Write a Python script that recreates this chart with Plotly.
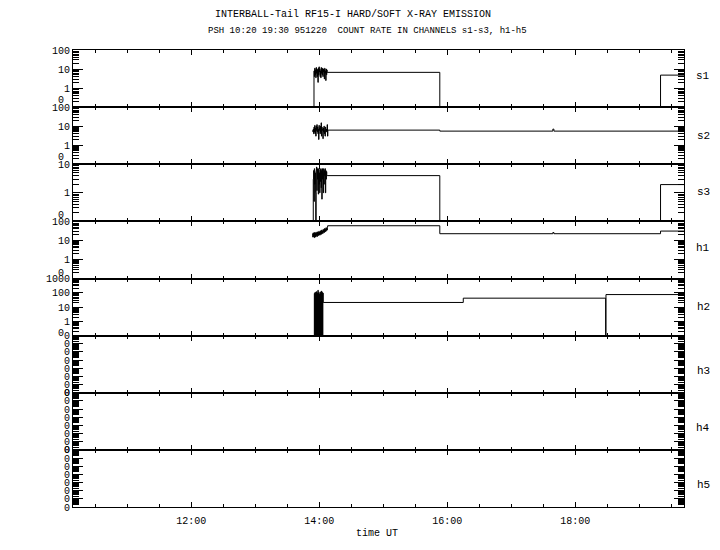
import plotly.graph_objects as go
from plotly.subplots import make_subplots
import pandas as pd

DAY = "1995-12-20 "
FONT = "Liberation Mono"

channels = ["s1", "s2", "s3", "h1", "h2", "h3", "h4", "h5"]

# ---- data (count rates) ----
burst_cadence = "20s"

s1_pre_t = ["13:54:40"]
s1_pre_v = [0]
s1_burst_start = "13:55:00"
s1_burst = [8, 4, 11, 5, 9, 3.5, 12, 6, 10, 4, 9, 2, 11, 5, 13, 7, 10, 4, 8, 3.5,
            12, 6, 9, 5, 11, 4, 10, 7, 9, 3, 11, 6, 8, 2.5, 10, 5, 9]
s1_post_t = ["14:07:20", "15:53:00", "19:20:00", "19:45:00"]
s1_post_v = [6.7, 0, 4.8, 4.8]

s2_pre_t = []
s2_pre_v = []
s2_burst_start = "13:53:40"
s2_burst = [6, 5, 7, 4, 9, 5, 11, 4, 8, 3, 10, 6, 12, 5, 9, 4, 7, 2, 11, 6, 8, 4,
            10, 5, 15, 3, 9, 6, 7, 2.2, 8, 5, 10, 4, 6, 3, 9, 6, 5, 7, 6, 12, 3]
s2_post_t = ["14:08:00", "15:53:00", "17:39:00", "17:40:00", "19:45:00"]
s2_post_v = [6.2, 5.5, 7, 5.5, 5.5]

s3_pre_t = ["13:53:40"]
s3_pre_v = [0]
s3_burst_start = "13:54:00"
s3_burst = [0, 3, 6, 0.5, 7, 2, 5, 1, 0, 6, 8, 1.2, 7, 3, 6, 0.9, 7, 2, 5, 1,
            6.5, 2.5, 7, 1.5, 6, 0.6, 7, 3, 5, 1, 7, 2, 6, 4, 7, 1, 6, 3, 5.5, 4]
s3_post_t = ["14:07:20", "15:53:00", "19:20:00", "19:45:00"]
s3_post_v = [4.0, 0, 1.94, 1.94]

h1_pre_t = []
h1_pre_v = []
h1_burst_start = "13:53:30"
h1_burst = [22, 15, 25, 16, 21, 14, 26, 17, 24, 15, 27, 18, 23, 16, 28, 19, 26, 18,
            30, 20, 27, 19, 32, 22, 29, 21, 35, 24, 31, 23, 38, 27, 34, 26, 42, 30,
            38, 29, 46, 33, 44, 35, 50]
h1_post_t = ["14:07:50", "15:53:00", "17:39:00", "17:40:00", "19:20:00", "19:45:00"]
h1_post_v = [59, 22.5, 26, 22.5, 31, 31]

h2_pre_t = []
h2_pre_v = []
h2_burst_start = "13:55:00"
h2_burst = [0, 90, 0, 110, 0, 85, 0, 120, 0, 95, 0, 150, 0, 100, 0, 80, 0, 115,
            0, 90, 0, 130, 0, 105, 0, 95]
h2_post_t = ["14:03:40", "16:15:00", "18:28:30", "18:28:50", "19:45:00"]
h2_post_v = [21, 42, 0, 75, 75]

series_def = {
    "s1": (s1_pre_t, s1_pre_v, s1_burst_start, s1_burst, s1_post_t, s1_post_v),
    "s2": (s2_pre_t, s2_pre_v, s2_burst_start, s2_burst, s2_post_t, s2_post_v),
    "s3": (s3_pre_t, s3_pre_v, s3_burst_start, s3_burst, s3_post_t, s3_post_v),
    "h1": (h1_pre_t, h1_pre_v, h1_burst_start, h1_burst, h1_post_t, h1_post_v),
    "h2": (h2_pre_t, h2_pre_v, h2_burst_start, h2_burst, h2_post_t, h2_post_v),
}

# y-axis decades (log10 range) and labels per panel
y_ranges = {"s1": [-1, 2], "s2": [-1, 2], "s3": [-1, 1], "h1": [-1, 2], "h2": [-1, 3],
            "h3": [-7, 0], "h4": [-7, 0], "h5": [-7, 0]}
y_tickvals = {"s1": [1, 10, 100], "s2": [1, 10, 100], "s3": [1, 10],
              "h1": [1, 10, 100], "h2": [1, 10, 100, 1000]}
y_ticktext = {"s1": ["1", "10", "100"], "s2": ["1", "10", "100"], "s3": ["1", "10"],
              "h1": ["1", "10", "100"], "h2": ["1", "10", "100", "1000"]}
empty_decades = [1e-7, 1e-6, 1e-5, 1e-4, 1e-3, 1e-2, 1e-1, 1]

title1 = "INTERBALL-Tail RF15-I HARD/SOFT X-RAY EMISSION"
title2 = "PSH 10:20 19:30 951220  COUNT RATE IN CHANNELS s1-s3, h1-h5"
x_title = "time UT"
x_range = [DAY + "10:09:00", DAY + "19:42:00"]

FLOOR = 1e-3  # zero count rate cannot be shown on a log axis: drawn below the axis floor

# ---- figure (page body adds an 8 px offset) ----
OFF = 8
W, H = 704, 534
ML, MR, MT, MB = 65, 28, 42, 35
PW, PH = W - ML - MR, H - MT - MB


def px_x(px):
    return (px - OFF - ML) / PW


def px_y(py):
    return (OFF + H - MB - py) / PH


def log_minor_ticks(rng):
    out = []
    for d in range(int(rng[0]), int(rng[1])):
        out += [m * 10.0 ** d for m in range(2, 10)]
    return out


fig = make_subplots(rows=8, cols=1, shared_xaxes=True, vertical_spacing=0)

for i, ch in enumerate(channels):
    row = i + 1
    if ch in series_def:
        pre_t, pre_v, bstart, bvals, post_t, post_v = series_def[ch]
        t = (list(pd.to_datetime([DAY + s for s in pre_t]))
             + list(pd.date_range(DAY + bstart, periods=len(bvals), freq=burst_cadence))
             + list(pd.to_datetime([DAY + s for s in post_t])))
        v = list(pre_v) + list(bvals) + list(post_v)
        v = [val if val > 0 else FLOOR for val in v]
        fig.add_trace(go.Scatter(x=t, y=v, mode="lines", line=dict(color="black", width=1, shape="hv"),
                                 hoverinfo="skip"), row=row, col=1)
    else:
        fig.add_trace(go.Scatter(x=[], y=[], mode="lines"), row=row, col=1)

    if ch in y_tickvals:
        tv, tt = y_tickvals[ch], y_ticktext[ch]
    else:
        tv, tt = empty_decades, ["0"] * len(empty_decades)
    fig.update_yaxes(type="log", range=y_ranges[ch], tickmode="array", tickvals=tv, ticktext=tt,
                     ticks="inside", ticklen=10, tickcolor="black", tickwidth=1,
                     minor=dict(tickmode="array", tickvals=log_minor_ticks(y_ranges[ch]),
                                ticks="inside", ticklen=6, tickcolor="black",
                                tickwidth=1, showgrid=False),
                     showline=True, linecolor="black", linewidth=1, mirror="allticks",
                     showgrid=False, zeroline=False,
                     tickfont=dict(family=FONT, size=10, color="black"),
                     row=row, col=1)

fig.update_xaxes(type="date", range=x_range, tick0=DAY + "00:00:00", dtick=7200000,
                 tickformat="%H:%M", ticks="inside", ticklen=5, tickcolor="black",
                 minor=dict(dtick=1800000, ticks="inside", ticklen=3, tickcolor="black", showgrid=False),
                 showline=True, linecolor="black", linewidth=1, mirror="allticks",
                 showgrid=False, zeroline=False, ticklabelstandoff=4,
                 tickfont=dict(family=FONT, size=10, color="black"))

annotations = [
    dict(text=title1, x=px_x(353), y=px_y(14), font=dict(family=FONT, size=10)),
    dict(text=title2, x=px_x(367), y=px_y(31), font=dict(family=FONT, size=9)),
    dict(text=x_title, x=px_x(377), y=px_y(533), font=dict(family=FONT, size=10)),
]
label_y = [76, 136, 192, 248, 307, 371, 428, 485]
for ch, py in zip(channels, label_y):
    annotations.append(dict(text=ch, x=px_x(703), y=px_y(py), font=dict(family=FONT, size=11)))
zero_y = {"s1": 100, "s2": 157, "s3": 215, "h1": 273, "h2": 333}
for ch, py in zero_y.items():
    annotations.append(dict(text="0", x=px_x(66), y=px_y(py), xanchor="right",
                            font=dict(family=FONT, size=10)))
for a in annotations:
    a.update(xref="paper", yref="paper", showarrow=False, yanchor="middle")
    a.setdefault("xanchor", "center")
    a["font"]["color"] = "black"

fig.update_layout(width=W, height=H, margin=dict(l=ML, r=MR, t=MT, b=MB),
                  paper_bgcolor="white", plot_bgcolor="white", showlegend=False,
                  annotations=annotations)

fig.write_html("out.html")
